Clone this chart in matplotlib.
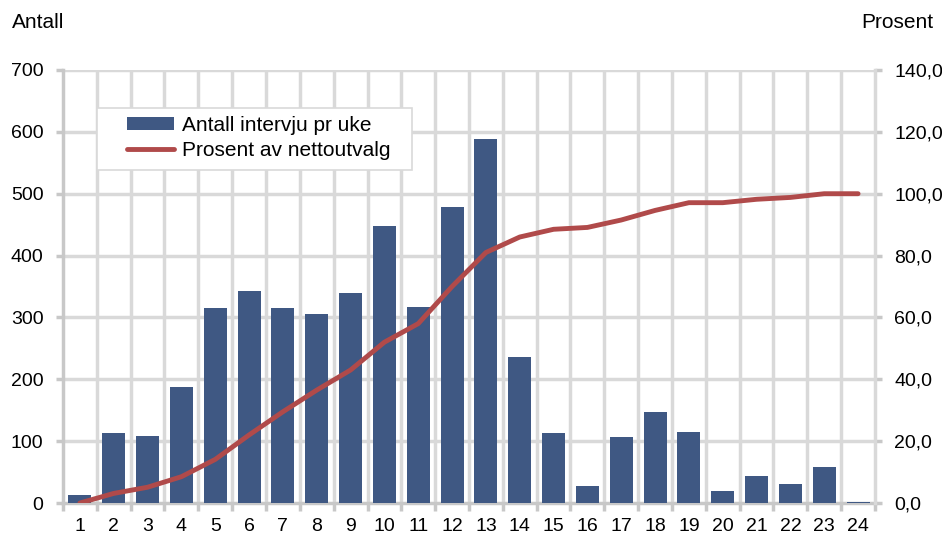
import matplotlib
matplotlib.use("Agg")
import matplotlib.pyplot as plt
import numpy as np
from matplotlib.ticker import FuncFormatter
from matplotlib.patches import Rectangle

plt.rcParams['font.family'] = ['Liberation Sans', 'DejaVu Sans']

weeks = list(range(1, 25))
antall = [13, 113, 109, 187, 315, 343, 315, 305, 339, 448, 317, 479,
          588, 236, 113, 28, 106, 147, 115, 19, 44, 31, 59, 2]
prosent = [0.0, 3.1, 5.1, 8.5, 14.1, 22.0, 29.5, 36.5, 43.0, 52.0, 58.0, 70.0,
           81.0, 86.0, 88.5, 89.1, 91.5, 94.6, 97.1, 97.1, 98.2, 98.8, 100.0, 100.0]

bar_color = '#3F5883'
line_color = '#B04A4A'
grid_color = '#D9D9D9'
spine_color = '#C8C8C8'
FS = 14
FS_T = 15

W, H = 942, 535
fig = plt.figure(figsize=(W / 100, H / 100), dpi=100)
ax = fig.add_axes([63 / W, 32 / H, 812 / W, 433 / H])
ax2 = ax.twinx()

x = np.arange(len(weeks))
bars = ax.bar(x, antall, width=0.68, color=bar_color, zorder=3)
ax.set_xlim(-0.5, len(weeks) - 0.5)
ax.set_ylim(0, 700)
ax.set_yticks(range(0, 701, 100))
ax.set_xticks(x)
ax.set_xticklabels([str(w) for w in weeks])
ax.set_xticks(np.arange(-0.5, len(weeks), 1), minor=True)

ax.grid(False)
for yv in range(100, 701, 100):
    ax.axhline(yv, color=grid_color, lw=2.5, zorder=1)
for xv in np.arange(0.5, len(weeks) - 0.5, 1):
    ax.axvline(xv, color=grid_color, lw=2.5, zorder=1)

line, = ax2.plot(x, prosent, color=line_color, lw=3.5, solid_capstyle='round',
                 zorder=4)
ax2.set_ylim(0, 140)
ax2.set_yticks(range(0, 141, 20))
ax2.yaxis.set_major_formatter(FuncFormatter(lambda v, p: f"{v:.1f}".replace('.', ',')))

ax.set_zorder(ax2.get_zorder() - 1)
ax.patch.set_visible(True)
ax2.patch.set_visible(False)

for a in (ax, ax2):
    for s in a.spines.values():
        s.set_color(spine_color)
        s.set_linewidth(2.5)
    a.spines['top'].set_visible(False)
ax.spines['right'].set_visible(False)
ax2.spines['left'].set_visible(False)
ax2.spines['bottom'].set_visible(False)
ax2.spines['right'].set_color(grid_color)

ax.tick_params(axis='x', which='major', length=0, labelsize=FS, pad=11, colors='black')
ax.tick_params(axis='x', which='minor', length=6, width=2.5, color=spine_color)
ax.tick_params(axis='y', length=5, width=2.5, color=spine_color, labelsize=FS,
               labelcolor='black', pad=9)
ax2.tick_params(axis='y', length=5, width=2.5, color=spine_color, labelsize=FS,
                labelcolor='black', pad=9)

fig.text(12 / W, 1 - 22 / H, 'Antall', fontsize=FS_T, ha='left', va='center')
fig.text(933 / W, 1 - 22 / H, 'Prosent', fontsize=FS_T, ha='right', va='center')

# legend box
box = Rectangle((97 / W, 1 - 170 / H), 315 / W, 62 / H, transform=fig.transFigure,
                facecolor='white', edgecolor=grid_color, lw=1.2, zorder=1)
fig.patches.append(box)

leg = fig.legend([bars, line], ['Antall intervju pr uke', 'Prosent av nettoutvalg'],
                 loc='upper left', bbox_to_anchor=(127 / W, 1 - 116 / H),
                 fontsize=FS_T, frameon=False, handlelength=2.25, handleheight=0.6,
                 borderpad=0, borderaxespad=0, labelspacing=0.3, handletextpad=0.4)
leg.set_zorder(5)

fig.savefig('out.png', dpi=100)
